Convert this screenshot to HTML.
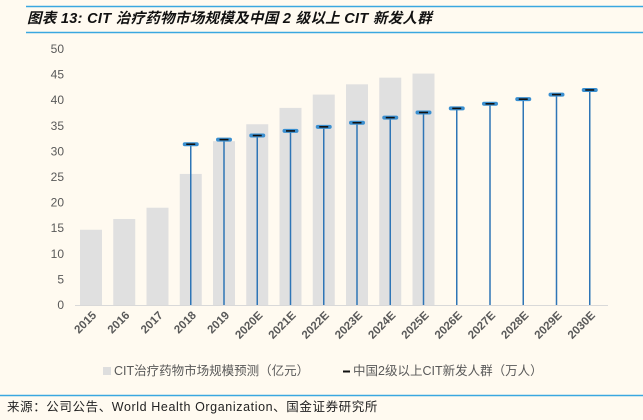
<!DOCTYPE html>
<html><head><meta charset="utf-8"><style>
body{margin:0;background:#fffaf0;}
#c{position:relative;width:643px;height:420px;background:#fffaf0;font-family:"Liberation Sans","Noto Sans CJK SC",sans-serif;overflow:hidden}
</style></head><body>
<div id="c">
<svg width="643" height="420" xmlns="http://www.w3.org/2000/svg">
<line x1="26" y1="6.5" x2="643" y2="6.5" stroke="#3aa7e0" stroke-width="1.5"/>
<text x="27" y="23" font-size="14.5" font-weight="bold" font-style="italic" fill="#111" letter-spacing="0.3" font-family="Liberation Sans,Noto Sans CJK SC,sans-serif">图表 13:  CIT 治疗药物市场规模及中国 2 级以上 CIT 新发人群</text>
<line x1="26" y1="32.5" x2="643" y2="32.5" stroke="#3aa7e0" stroke-width="1.5"/>
<g id="yax"></g>
<g id="bars"></g>
<g id="pts"></g>
<line x1="75" y1="305.5" x2="608" y2="305.5" stroke="#d9d9d9" stroke-width="1"/>
<g id="xax"></g>
<rect x="103" y="367" width="8" height="8" fill="#dedede"/>
<text x="114" y="375" font-size="12.5" fill="#595959">CIT治疗药物市场规模预测（亿元）</text>
<line x1="343" y1="371.5" x2="350" y2="371.5" stroke="#111" stroke-width="2"/>
<text x="353" y="375" font-size="12.5" fill="#595959">中国2级以上CIT新发人群（万人）</text>
<line x1="0" y1="395.5" x2="643" y2="395.5" stroke="#3aa7e0" stroke-width="1.5"/>
<text x="7" y="411" font-size="12.5" letter-spacing="0.6" fill="#222">来源：公司公告、World Health Organization、国金证券研究所</text>
</svg>
</div>
<script>
const categories=["2015","2016","2017","2018","2019","2020E","2021E","2022E","2023E","2024E","2025E","2026E","2027E","2028E","2029E","2030E"];
const marketValues=[14.7,16.8,19.0,25.6,32.0,35.3,38.5,41.1,43.1,44.4,45.2,null,null,null,null,null];
const populationValues=[null,null,null,31.4,32.3,33.1,34.0,34.8,35.6,36.6,37.6,38.4,39.3,40.2,41.1,42.0];
const yTicks=[0,5,10,15,20,25,30,35,40,45,50];
const NS="http://www.w3.org/2000/svg";
const y=v=>305-v*5.12;
const x=i=>91+i*33.25;
function mk(t,a,p){const e=document.createElementNS(NS,t);for(const k in a)e.setAttribute(k,a[k]);p.appendChild(e);return e;}
const yax=document.getElementById('yax');
yTicks.forEach(t=>{const e=mk('text',{x:64,y:y(t)+4,'font-size':12,fill:'#595959','text-anchor':'end'},yax);e.textContent=t;

});
const bars=document.getElementById('bars');
marketValues.forEach((v,i)=>{if(v==null)return;const r=mk('rect',{x:x(i)-11,y:y(v),width:22,height:305-y(v),fill:'#e0e0e0'},bars);

});
const pts=document.getElementById('pts');
populationValues.forEach((v,i)=>{if(v==null)return;
const l=mk('line',{x1:x(i),y1:y(v),x2:x(i),y2:305,stroke:'#2e75b6','stroke-width':1.5},pts);


const o=mk('line',{x1:x(i)-6,y1:y(v),x2:x(i)+6,y2:y(v),stroke:'#3a8fd0','stroke-width':4,'stroke-linecap':'round'},pts);


const m=mk('line',{x1:x(i)-4.5,y1:y(v),x2:x(i)+4.5,y2:y(v),stroke:'#111','stroke-width':1.6},pts);

});
const xax=document.getElementById('xax');
categories.forEach((c,i)=>{const e=mk('text',{x:x(i)+6,y:316,'font-size':11.5,'font-weight':'bold',fill:'#595959','text-anchor':'end',transform:`rotate(-45 ${x(i)+6} 316)`},xax);e.textContent=c;

});
</script>
</body></html>
